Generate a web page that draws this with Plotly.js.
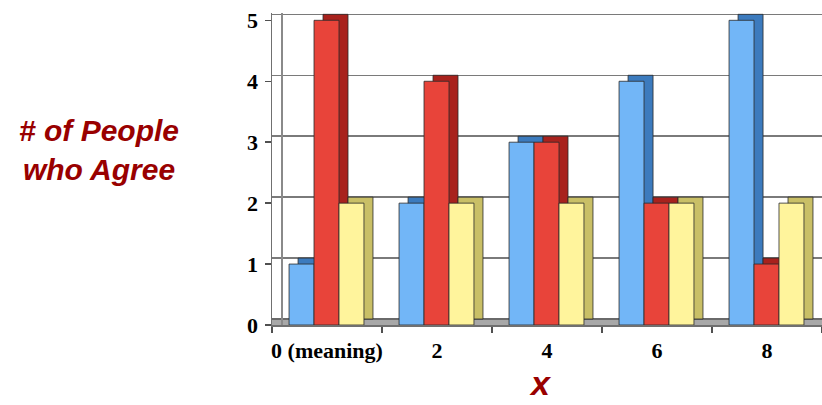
<!DOCTYPE html>
<html>
<head>
<meta charset="utf-8">
<script src="https://cdn.plot.ly/plotly-3.0.1.min.js"></script>
<style>html,body{margin:0;padding:0;background:#fff;}#chart{width:822px;height:405px;}</style>
</head>
<body>
<div id="chart"></div>
<script>
// Data
const categories = ['0 (meaning)', '2', '4', '6', '8'];
const blueValues = [1, 2, 3, 4, 5];
const redValues = [5, 4, 3, 2, 1];
const yellowValues = [2, 2, 2, 2, 2];
const yTickVals = [0, 1, 2, 3, 4, 5];

// Styling (3D look)
const barW = 0.227;
const dx = 0.082;      // depth shift in category units
const dy = 0.098;      // depth shift in value units
const yTop = 5.12;

const series = [
  {vals: blueValues, off: -0.345, front: '#72B6F7', side: '#3C7BBE'},
  {vals: redValues, off: -0.118, front: '#E8443A', side: '#A8221D'},
  {vals: yellowValues, off: 0.109, front: '#FFF49C', side: '#C9BF66'}
];

const traces = [];
// back/side faces (on shifted axis y)
series.forEach(s => {
  traces.push({
    type: 'bar', x: categories, y: s.vals, base: 0,
    offset: s.off + dx, width: barW, xaxis: 'x', yaxis: 'y',
    marker: {color: s.side, line: {color: '#2a2a2a', width: 0.8}},
    hoverinfo: 'skip', showlegend: false
  });
});
// front faces (on front axis y2)
series.forEach(s => {
  traces.push({
    type: 'bar', x: categories, y: s.vals, base: 0,
    offset: s.off, width: barW, xaxis: 'x', yaxis: 'y2',
    marker: {color: s.front, line: {color: '#2a2a2a', width: 0.8}},
    showlegend: false
  });
});

const layout = {
  width: 822, height: 405,
  margin: {l: 272, r: 0, t: 13, b: 80},
  paper_bgcolor: '#ffffff', plot_bgcolor: '#ffffff',
  barmode: 'overlay',
  showlegend: false,
  xaxis: {
    type: 'category', range: [-0.5, 4.5], tickangle: 0,
    showgrid: false, zeroline: false,
    showline: true, linecolor: '#707070', linewidth: 1.5,
    ticks: 'outside', tickson: 'boundaries', ticklen: 6, tickcolor: '#505050', tickwidth: 1.5,
    ticklabelstandoff: 5,
    tickfont: {family: 'Liberation Serif', size: 22, color: '#000', weight: 'bold'}
  },
  yaxis: {
    range: [-dy, yTop - dy], tickvals: yTickVals,
    showticklabels: false, ticks: '',
    showgrid: true, gridcolor: '#7a7a7a', gridwidth: 1.5,
    zeroline: true, zerolinecolor: '#6a6a6a', zerolinewidth: 1.5,
    showline: true, linecolor: '#8a8a8a', linewidth: 1.5,
    anchor: 'free', position: 0.0164
  },
  yaxis2: {
    range: [0, yTop], tickvals: yTickVals, overlaying: 'y', side: 'left', anchor: 'x',
    showgrid: false, zeroline: false,
    showline: true, linecolor: '#707070', linewidth: 1.5,
    ticks: 'outside', ticklen: 6, tickcolor: '#505050', tickwidth: 1.5,
    ticklabelstandoff: 2,
    tickfont: {family: 'Liberation Serif', size: 22, color: '#000', weight: 'bold'}
  },
  shapes: [
    {type: 'rect', xref: 'paper', yref: 'y2', x0: 0, x1: 1, y0: 0, y1: dy,
     fillcolor: '#a8a8a8', line: {width: 0}, layer: 'between'}
  ],
  annotations: [
    {text: '# of People<br>who Agree', xref: 'paper', yref: 'paper', x: -0.315, y: 0.56,
     xanchor: 'center', yanchor: 'middle', showarrow: false, align: 'center',
     font: {family: 'Liberation Sans', size: 30, color: '#990000', weight: 'bold', style: 'italic'}},
    {text: 'x', xref: 'paper', yref: 'paper', x: 0.489, y: -0.2545,
     xanchor: 'center', yanchor: 'bottom', showarrow: false,
     font: {family: 'Liberation Sans', size: 34, color: '#990000', weight: 'bold', style: 'italic'}}
  ]
};

Plotly.newPlot('chart', traces, layout, {staticPlot: true, displayModeBar: false});
</script>
</body>
</html>
